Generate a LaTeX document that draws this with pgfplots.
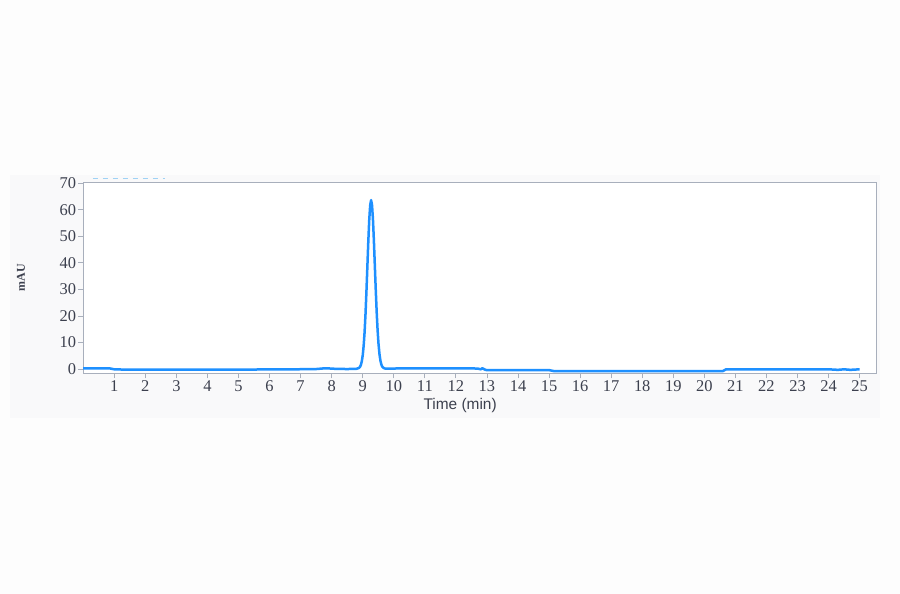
\documentclass[border=0pt]{standalone}
\usepackage{pgfplots}
\pgfplotsset{compat=1.18}
\usepackage{fontspec}
\setmainfont{Liberation Serif}
\newfontfamily\arial{Liberation Sans}

\definecolor{pagebg}{RGB}{253,253,253}
\definecolor{panelbg}{RGB}{249,249,250}
\definecolor{framegray}{RGB}{168,175,188}
\definecolor{ticktext}{RGB}{60,64,78}
\definecolor{trace}{RGB}{30,144,255}
\definecolor{dashblue}{RGB}{160,210,245}

\begin{document}
\begin{tikzpicture}
\fill[pagebg] (0,0) rectangle (900bp,594bp);
\fill[panelbg] (10bp,176bp) rectangle (880bp,419bp);
\begin{axis}[
    at={(83.2bp,220.7bp)}, anchor=south west,
    width=793.5bp, height=191bp, scale only axis,
    xmin=0, xmax=25.55, ymin=-1.6, ymax=70.3,
    xtick={1,...,25}, ytick={0,10,...,70},
    xtick pos=lower, ytick pos=left,
    tick align=outside, major tick length=5bp,
    axis line style={framegray, line width=1bp},
    tick style={framegray, line width=0.8bp},
    axis background/.style={fill=white},
    /pgf/number format/assume math mode=true,
    ticklabel style={font=\fontsize{16.5}{19}\selectfont, text=ticktext, inner sep=2bp},
    xlabel={Time (min)},
    xlabel style={font=\arial\fontsize{15.5}{18}\selectfont, text=ticktext,
        at={(axis description cs:0.475,-0.1675)}, anchor=center},
    ylabel={mAU},
    ylabel style={font=\bfseries\fontsize{12}{14}\selectfont, text=ticktext,
        at={(axis description cs:-0.0784,0.5)}, anchor=center},
    clip=false,
]
\addplot[trace, line width=2.5bp, line join=round] coordinates {
    (0,0.25) (0.5,0.25) (0.85,0.25) (1.0,-0.1) (1.3,-0.2) (2,-0.2) (3,-0.2)
    (4,-0.2) (5,-0.2) (6,-0.15) (6.8,-0.1) (7.5,0) (7.8,0.3) (8.1,0.1)
    (8.5,0) (8.8,0.1)
    (8.87,0.35) (8.91,0.8) (8.94,1.5) (8.97,2.9) (9.00,5.1) (9.03,8.7)
    (9.06,13.8) (9.09,20.7) (9.12,29.2) (9.15,38.6) (9.18,48.0) (9.21,56.1)
    (9.24,61.6) (9.27,63.6) (9.30,61.7) (9.33,56.3) (9.36,48.3) (9.39,39.0)
    (9.42,29.8) (9.45,21.4) (9.48,14.5) (9.51,9.3) (9.54,5.6) (9.57,3.2)
    (9.60,1.7) (9.63,0.9) (9.67,0.4) (9.72,0.2)
    (10,0.2) (10.5,0.25) (11,0.25) (12,0.25) (12.7,0.2) (12.8,-0.1)
    (12.85,0.3) (12.95,-0.3) (13,-0.4) (14,-0.4) (15,-0.4) (15.15,-0.75)
    (16,-0.75) (18,-0.75) (20.6,-0.75) (20.7,-0.1) (22,-0.1) (24,-0.1)
    (24.3,-0.3) (24.5,-0.1) (24.7,-0.3) (25,-0.1)
};
\draw[dashblue, line width=1.5bp, dash pattern=on 5bp off 5bp]
    (axis cs:0.31,71.8) -- (axis cs:2.63,71.8);
\end{axis}
\end{tikzpicture}
\end{document}
